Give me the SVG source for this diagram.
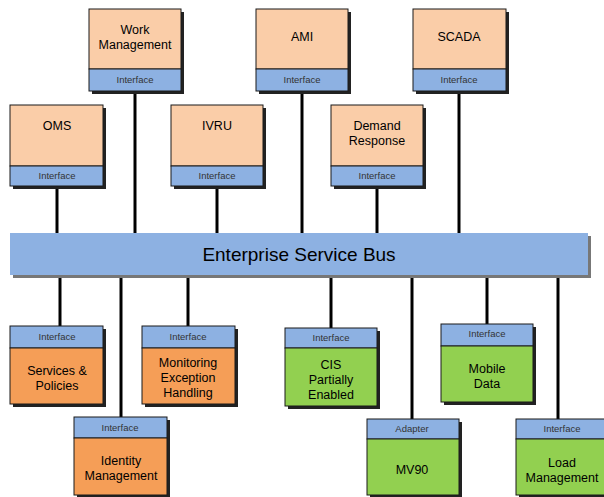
<svg xmlns="http://www.w3.org/2000/svg" width="604" height="497" viewBox="0 0 604 497">
<style>
.sh{fill:#222}
.box{stroke:#1a1a1a;stroke-width:1}
.peach{fill:#FACDA8}
.blue{fill:#8DB1E2}
.orange{fill:#F59E57}
.green{fill:#92D050}
.t{font-family:"Liberation Sans",Arial,sans-serif;font-size:12.5px;fill:#000;text-anchor:middle}
.i{font-family:"Liberation Sans",Arial,sans-serif;font-size:9.5px;fill:#333;text-anchor:middle}
.bus{font-family:"Liberation Sans",Arial,sans-serif;font-size:19px;fill:#000;text-anchor:middle}
.c{stroke:#000;stroke-width:3;fill:none}
</style>
<rect width="604" height="497" fill="#fff"/>
<g id="connectors">
<line class="c" x1="57" y1="186" x2="57" y2="233"/>
<line class="c" x1="135" y1="91" x2="135" y2="233"/>
<line class="c" x1="217" y1="186" x2="217" y2="233"/>
<line class="c" x1="302" y1="91" x2="302" y2="233"/>
<line class="c" x1="377" y1="186" x2="377" y2="233"/>
<line class="c" x1="459" y1="91" x2="459" y2="233"/>
<line class="c" x1="60" y1="275" x2="60" y2="326"/>
<line class="c" x1="121" y1="275" x2="121" y2="417"/>
<line class="c" x1="188" y1="275" x2="188" y2="326"/>
<line class="c" x1="331" y1="275" x2="331" y2="328"/>
<line class="c" x1="412" y1="275" x2="412" y2="419"/>
<line class="c" x1="487" y1="275" x2="487" y2="324"/>
<line class="c" x1="558" y1="275" x2="558" y2="419"/>
</g>
<g id="esb">
<rect x="13" y="236" width="578" height="42" fill="#777"/>
<rect x="10" y="233" width="578" height="42" fill="#8DB1E2"/>
<text class="bus" x="299" y="261">Enterprise Service Bus</text>
</g>
<g id="work-management">
<rect class="sh" x="92" y="12" width="92" height="82"/>
<rect class="box peach" x="89" y="9" width="92" height="60"/>
<rect class="box blue" x="89" y="69" width="92" height="22"/>
<text class="t" x="135" y="34">Work</text>
<text class="t" x="135" y="49">Management</text>
<text class="i" x="135" y="83">Interface</text>
</g>
<g id="ami">
<rect class="sh" x="259" y="12" width="92" height="82"/>
<rect class="box peach" x="256" y="9" width="92" height="60"/>
<rect class="box blue" x="256" y="69" width="92" height="22"/>
<text class="t" x="302" y="41">AMI</text>
<text class="i" x="302" y="83">Interface</text>
</g>
<g id="scada">
<rect class="sh" x="416" y="12" width="93" height="82"/>
<rect class="box peach" x="413" y="9" width="93" height="60"/>
<rect class="box blue" x="413" y="69" width="93" height="22"/>
<text class="t" x="459" y="41">SCADA</text>
<text class="i" x="459" y="83">Interface</text>
</g>
<g id="oms">
<rect class="sh" x="13" y="108" width="93" height="81"/>
<rect class="box peach" x="10" y="105" width="93" height="61"/>
<rect class="box blue" x="10" y="166" width="93" height="20"/>
<text class="t" x="57" y="130">OMS</text>
<text class="i" x="57" y="179">Interface</text>
</g>
<g id="ivru">
<rect class="sh" x="174" y="108" width="92" height="81"/>
<rect class="box peach" x="171" y="105" width="92" height="61"/>
<rect class="box blue" x="171" y="166" width="92" height="20"/>
<text class="t" x="217" y="130">IVRU</text>
<text class="i" x="217" y="179">Interface</text>
</g>
<g id="demand-response">
<rect class="sh" x="334" y="108" width="92" height="81"/>
<rect class="box peach" x="331" y="105" width="92" height="61"/>
<rect class="box blue" x="331" y="166" width="92" height="20"/>
<text class="t" x="377" y="130">Demand</text>
<text class="t" x="377" y="145">Response</text>
<text class="i" x="377" y="179">Interface</text>
</g>
<g id="services-policies">
<rect class="sh" x="13" y="329" width="93" height="78"/>
<rect class="box blue" x="10" y="326" width="93" height="22"/>
<rect class="box orange" x="10" y="348" width="93" height="56"/>
<text class="i" x="57" y="340">Interface</text>
<text class="t" x="57" y="375">Services &amp;</text>
<text class="t" x="57" y="390">Policies</text>
</g>
<g id="monitoring">
<rect class="sh" x="145" y="329" width="93" height="78"/>
<rect class="box blue" x="142" y="326" width="93" height="22"/>
<rect class="box orange" x="142" y="348" width="93" height="56"/>
<text class="i" x="188" y="340">Interface</text>
<text class="t" x="188" y="367">Monitoring</text>
<text class="t" x="188" y="382">Exception</text>
<text class="t" x="188" y="397">Handling</text>
</g>
<g id="identity-management">
<rect class="sh" x="77" y="420" width="93" height="78"/>
<rect class="box blue" x="74" y="417" width="93" height="21"/>
<rect class="box orange" x="74" y="438" width="93" height="57"/>
<text class="i" x="120" y="431">Interface</text>
<text class="t" x="121" y="465">Identity</text>
<text class="t" x="121" y="480">Management</text>
</g>
<g id="cis">
<rect class="sh" x="288" y="331" width="92" height="78"/>
<rect class="box blue" x="285" y="328" width="92" height="20"/>
<rect class="box green" x="285" y="348" width="92" height="58"/>
<text class="i" x="331" y="341">Interface</text>
<text class="t" x="331" y="369">CIS</text>
<text class="t" x="331" y="384">Partially</text>
<text class="t" x="331" y="399">Enabled</text>
</g>
<g id="mobile-data">
<rect class="sh" x="444" y="327" width="92" height="78"/>
<rect class="box blue" x="441" y="324" width="92" height="22"/>
<rect class="box green" x="441" y="346" width="92" height="56"/>
<text class="i" x="487" y="337">Interface</text>
<text class="t" x="487" y="373">Mobile</text>
<text class="t" x="487" y="388">Data</text>
</g>
<g id="mv90">
<rect class="sh" x="370" y="422" width="92" height="76"/>
<rect class="box blue" x="367" y="419" width="92" height="20"/>
<rect class="box green" x="367" y="439" width="92" height="56"/>
<text class="i" x="412" y="432">Adapter</text>
<text class="t" x="412" y="474">MV90</text>
</g>
<g id="load-management">
<rect class="sh" x="519" y="422" width="92" height="76"/>
<rect class="box blue" x="516" y="419" width="92" height="20"/>
<rect class="box green" x="516" y="439" width="92" height="56"/>
<text class="i" x="562" y="432">Interface</text>
<text class="t" x="562" y="467">Load</text>
<text class="t" x="562" y="482">Management</text>
</g>
</svg>
